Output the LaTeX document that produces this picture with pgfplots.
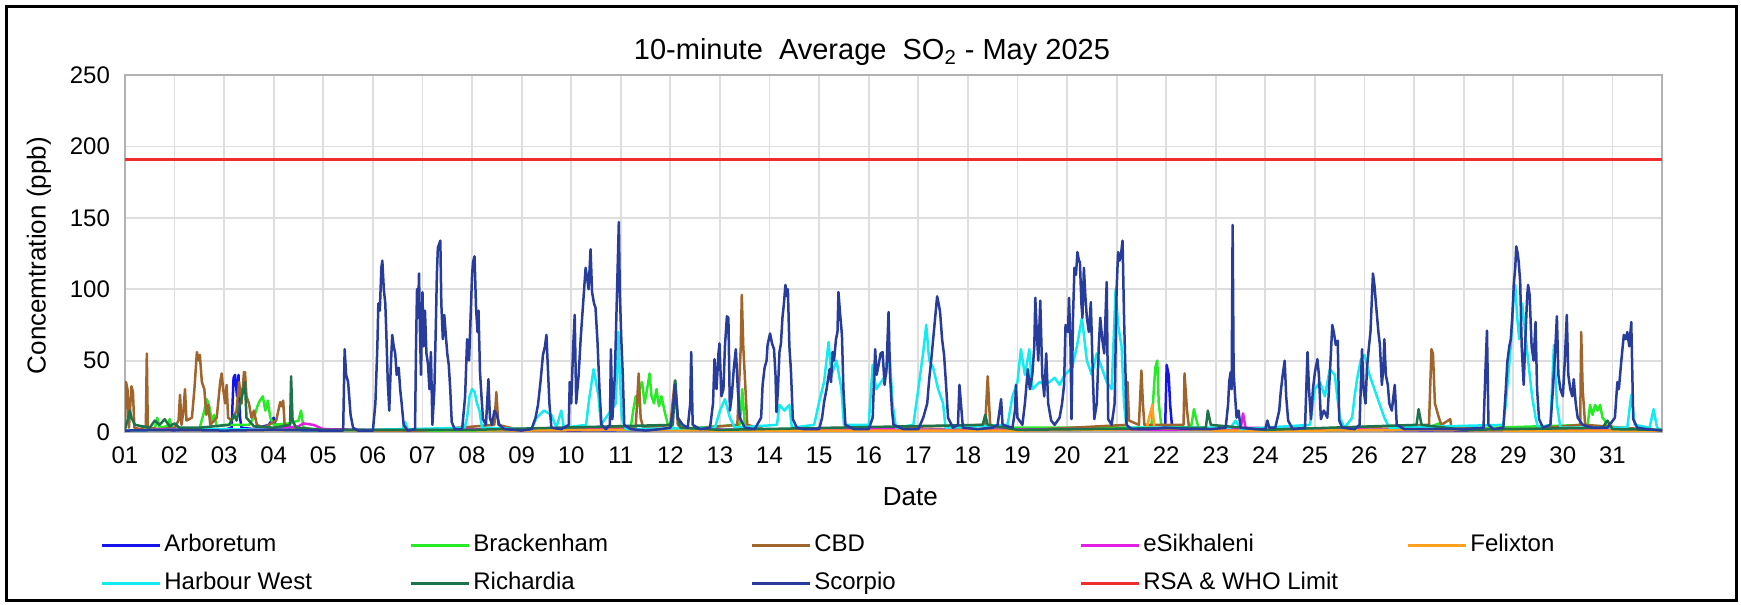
\documentclass[border=0pt]{standalone}
\usepackage{fontspec}
\setmainfont{Liberation Sans}
\usepackage{pgfplots}
\pgfplotsset{compat=1.18}
\definecolor{cArb}{RGB}{20,20,235}
\definecolor{cBra}{RGB}{40,235,40}
\definecolor{cCBD}{RGB}{160,100,45}
\definecolor{cESi}{RGB}{225,30,225}
\definecolor{cFel}{RGB}{255,160,30}
\definecolor{cHar}{RGB}{20,235,240}
\definecolor{cRic}{RGB}{30,115,75}
\definecolor{cSco}{RGB}{40,60,155}
\definecolor{cLim}{RGB}{240,45,45}
\definecolor{cGrid}{RGB}{222,222,222}
\begin{document}
\begin{tikzpicture}
\useasboundingbox (-62.5pt,-86.5pt) rectangle (808pt,216pt);
\draw[line width=1.5pt,black] (-59pt,-84pt) rectangle (805.5pt,212.5pt);
\begin{axis}[
  at={(0pt,0pt)}, anchor=south west,
  scale only axis, width=768.5pt, height=178.5pt,
  xmin=1, xmax=32, ymin=0, ymax=250,
  xtick={1,...,31},
  xticklabels={01,02,03,04,05,06,07,08,09,10,11,12,13,14,15,16,17,18,19,20,21,22,23,24,25,26,27,28,29,30,31},
  ytick={0,50,100,150,200,250},
  major tick length=0pt,
  grid=major,
  major grid style={cGrid, line width=0.9pt},
  axis line style={black!30, line width=0.8pt},
  /pgf/number format/assume math mode=true,
  tick label style={font=\fontsize{12}{14}\selectfont},
  yticklabel style={xshift=-4pt},
  xticklabel style={yshift=-4pt},
  title={10-minute\ \ Average\ \ SO\textsubscript{2} - May 2025},
  title style={at={(axis description cs:0.486,1.030)}, anchor=center, font=\fontsize{14.5}{16}\selectfont},
  xlabel={Date},
  xlabel style={at={(axis description cs:0.511,-0.182)}, anchor=center, font=\fontsize{13}{15}\selectfont},
  ylabel={Concemtration (ppb)},
  ylabel style={at={(axis description cs:-0.056,0.494)}, anchor=center, font=\fontsize{13}{15}\selectfont},
  legend columns=5,
  legend cell align=left,
  legend image code/.code={\draw[#1, line width=1.5pt] (0pt,0pt) -- (29pt,0pt);},
  legend style={at={(axis description cs:-0.0163,-0.2734)}, anchor=north west, draw=none, fill=none,
    inner sep=0pt, column sep=0pt, row sep=4pt,
    font=\fontsize{12}{14}\selectfont,
    nodes={inner sep=1.5pt, text height=9pt, text depth=3pt}},
  every axis plot/.append style={line width=1.25pt, line join=round},
]
% Arboretum
\addplot[cArb] coordinates {(1,1) (1.5,1.5) (2,1) (2.5,2) (3.0,1.5) (3.15,3) (3.19,38) (3.22,40) (3.26,25) (3.29,40) (3.32,10) (3.35,3) (3.6,2) (3.9,5) (4.0,10) (4.05,3) (4.5,1.5) (6,1) (8,1.5) (10,1) (12,1.5) (14,1) (16,1.5) (18,1) (20,1.5) (21.9,2) (21.98,5) (22.01,47) (22.05,40) (22.08,19) (22.12,3) (24,1) (26,1.5) (28,1) (30,1.5) (32,1)};
\addlegendentry{\makebox[121pt][l]{Arboretum}}
% Brackenham
\addplot[cBra] coordinates {(1,1) (1.6,2) (1.65,10) (1.7,3) (1.85,4) (1.9,9) (1.95,3) (2.5,2) (2.6,15) (2.65,23) (2.7,18) (2.75,8) (2.8,12) (2.85,4) (3.0,5) (3.5,5) (3.6,10) (3.67,18) (3.72,22) (3.78,25) (3.83,15) (3.88,22) (3.93,10) (4.0,5) (4.3,6) (4.5,8) (4.55,15) (4.6,3) (5,1) (8,1) (11.2,3) (11.25,15) (11.3,25) (11.34,18) (11.38,30) (11.43,35) (11.48,20) (11.53,30) (11.58,41) (11.62,25) (11.67,20) (11.72,30) (11.77,18) (11.82,25) (11.88,15) (11.95,5) (12.1,2) (13.4,5) (13.45,30) (13.5,5) (14,1) (18.3,2) (18.35,8) (18.4,3) (21.7,3) (21.78,45) (21.82,50) (21.85,20) (21.9,5) (22.5,3) (22.56,16) (22.6,10) (22.65,3) (24,1) (27.2,2) (27.5,6) (27.6,2) (30.5,5) (30.55,19) (30.6,12) (30.65,19) (30.7,15) (30.75,19) (30.8,10) (30.85,8) (30.9,3) (32,1)};
\addlegendentry{\makebox[137pt][l]{Brackenham}}
% CBD
\addplot[cCBD] coordinates {(1.0,2) (1.02,35) (1.05,30) (1.08,3) (1.13,32) (1.16,28) (1.19,3) (1.3,2) (1.42,4) (1.44,55) (1.46,3) (1.7,2) (2.0,3) (2.08,8) (2.11,26) (2.14,5) (2.18,15) (2.21,30) (2.24,8) (2.35,10) (2.4,30) (2.45,56) (2.49,50) (2.51,54) (2.55,35) (2.6,30) (2.64,12) (2.68,19) (2.72,5) (2.85,10) (2.92,35) (2.95,41) (2.98,30) (3.02,20) (3.05,33) (3.08,10) (3.15,8) (3.25,15) (3.3,35) (3.35,20) (3.4,42) (3.42,42) (3.45,25) (3.5,20) (3.55,10) (3.6,15) (3.66,5) (3.8,3) (4.05,8) (4.13,21) (4.16,18) (4.19,22) (4.22,5) (4.4,2) (5,1) (7,1) (8.45,5) (8.49,28) (8.53,5) (9,1) (11.3,3) (11.36,41) (11.4,10) (11.45,3) (12.0,5) (12.09,36) (12.15,5) (12.3,2) (13.35,5) (13.42,60) (13.44,96) (13.47,60) (13.5,40) (13.55,5) (14,1) (18.35,5) (18.4,39) (18.45,5) (19,1) (21.2,5) (21.22,35) (21.25,8) (21.45,5) (21.5,43) (21.53,20) (21.56,5) (22.35,5) (22.37,41) (22.42,15) (22.46,3) (24,1) (27.3,5) (27.35,58) (27.38,55) (27.42,20) (27.5,10) (27.55,5) (27.73,9) (27.75,3) (29,1) (30.35,5) (30.37,70) (30.4,30) (30.45,5) (32,1)};
\addlegendentry{\makebox[131pt][l]{CBD}}
% eSikhaleni
\addplot[cESi] coordinates {(1,1) (2,2) (3,1.5) (4,2) (4.5,4) (4.6,6) (4.8,5) (5,2) (6,1.5) (8,2) (10,1.5) (12,2) (14,1.5) (16,2) (18,1.5) (20,2) (22,1.5) (23.5,2) (23.55,13) (23.6,3) (25,2) (27,1.5) (29,2) (31,1.5) (32,1)};
\addlegendentry{\makebox[130pt][l]{eSikhaleni}}
% Felixton
\addplot[cFel] coordinates {(1,1) (3,1.5) (5,1) (7,1.5) (9,1) (11,1.5) (13,1) (15,1) (17,1) (19,1) (21.6,2) (21.72,19) (21.76,3) (23,1) (25,1) (27,1.5) (29,1) (31,1) (32,1)};
\addlegendentry{Felixton}
% Harbour West
\addplot[cHar] coordinates {(1,1) (3,2) (5,1) (6.6,2) (6.65,7) (6.7,2) (7.85,3) (7.9,10) (7.95,25) (8.0,30) (8.05,28) (8.1,20) (8.15,15) (8.2,3) (9.2,2) (9.3,10) (9.45,15) (9.6,12) (9.7,3) (9.8,15) (9.85,3) (10.3,5) (10.35,20) (10.45,44) (10.5,35) (10.55,25) (10.6,5) (10.9,20) (10.95,70) (10.98,40) (11.02,10) (11.1,2) (12.9,3) (13.0,15) (13.1,23) (13.2,10) (13.3,3) (14.15,5) (14.2,19) (14.3,15) (14.4,19) (14.45,3) (14.9,5) (15.0,21) (15.1,35) (15.19,63) (15.25,40) (15.35,50) (15.45,30) (15.5,5) (16.0,5) (16.08,47) (16.15,30) (16.25,35) (16.35,40) (16.42,56) (16.48,20) (16.55,3) (16.9,5) (17.0,30) (17.1,56) (17.16,75) (17.22,50) (17.3,45) (17.4,30) (17.5,20) (17.55,3) (18.8,5) (18.9,25) (19.0,35) (19.07,58) (19.15,40) (19.24,58) (19.3,30) (19.45,35) (19.55,33) (19.65,35) (19.75,38) (19.85,33) (19.95,40) (20.1,45) (20.2,60) (20.3,80) (20.4,50) (20.5,40) (20.6,55) (20.7,45) (20.8,35) (20.9,30) (20.98,100) (21.03,75) (21.1,60) (21.15,20) (21.2,3) (23.3,3) (23.4,8) (23.5,2) (24.9,5) (25.0,30) (25.1,35) (25.2,25) (25.3,44) (25.4,40) (25.5,10) (25.6,3) (25.75,10) (25.8,25) (25.85,37) (25.92,50) (26.0,54) (26.1,40) (26.2,30) (26.3,20) (26.4,10) (26.5,3) (28.8,5) (28.85,20) (28.95,60) (29.0,90) (29.04,103) (29.08,80) (29.12,65) (29.18,90) (29.24,70) (29.3,50) (29.38,25) (29.45,10) (29.5,3) (29.75,5) (29.82,61) (29.88,20) (29.95,3) (31.3,3) (31.38,26) (31.45,5) (31.75,3) (31.83,16) (31.9,3) (32,1)};
\addlegendentry{\makebox[121pt][l]{Harbour West}}
% Richardia
\addplot[cRic] coordinates {(1,2) (1.05,8) (1.1,15) (1.13,10) (1.2,5) (1.5,3) (1.6,8) (1.7,5) (1.8,9) (1.9,4) (2.0,6) (2.1,3) (2.5,3) (3.1,5) (3.2,12) (3.25,8) (3.42,35) (3.45,10) (3.6,4) (4.0,3) (4.33,5) (4.35,39) (4.38,8) (4.45,3) (5,1.5) (8,1.5) (12.05,5) (12.1,36) (12.15,10) (12.2,3) (13,1.5) (18.3,5) (18.35,12) (18.4,5) (19,1.5) (22.8,3) (22.84,15) (22.9,5) (24,1.5) (27.05,5) (27.09,16) (27.15,5) (28,1.5) (30.8,3) (30.9,8) (31,2) (32,1.5)};
\addlegendentry{\makebox[137pt][l]{Richardia}}
% Scorpio
\addplot[cSco] coordinates {(1,1) (2,1.5) (3,1) (4,1.5) (5,1) (5.40,1) (5.43,58) (5.46,40) (5.50,35) (5.55,12) (5.60,3) (5.70,1) (6.0,1) (6.05,20) (6.09,60) (6.11,90) (6.14,85) (6.17,115) (6.19,120) (6.22,100) (6.25,90) (6.27,70) (6.30,35) (6.33,15) (6.36,45) (6.39,68) (6.42,60) (6.45,55) (6.48,40) (6.52,45) (6.55,30) (6.58,20) (6.62,5) (6.7,1) (6.85,2) (6.87,60) (6.89,100) (6.91,80) (6.93,111) (6.95,70) (6.97,40) (7.0,98) (7.02,60) (7.05,85) (7.08,55) (7.11,48) (7.14,30) (7.17,56) (7.20,5) (7.24,30) (7.27,75) (7.29,110) (7.31,129) (7.34,132) (7.36,134) (7.38,90) (7.41,65) (7.44,82) (7.47,68) (7.50,55) (7.53,47) (7.56,30) (7.59,7) (7.65,2) (7.8,2) (7.86,25) (7.9,65) (7.94,50) (7.97,80) (8.0,110) (8.02,119) (8.05,123) (8.08,87) (8.11,70) (8.13,85) (8.16,42) (8.19,25) (8.22,9) (8.28,5) (8.33,37) (8.36,10) (8.40,5) (8.45,15) (8.50,12) (8.55,5) (8.65,2) (9.0,1) (9.2,2) (9.28,10) (9.33,19) (9.38,35) (9.43,54) (9.47,60) (9.5,68) (9.53,44) (9.56,20) (9.6,3) (9.8,2) (9.95,5) (9.97,35) (10.0,20) (10.04,60) (10.07,82) (10.1,20) (10.15,40) (10.19,65) (10.22,80) (10.26,100) (10.29,115) (10.32,108) (10.35,100) (10.39,128) (10.42,98) (10.46,90) (10.49,87) (10.53,63) (10.57,30) (10.61,5) (10.7,2) (10.78,5) (10.80,58) (10.83,9) (10.88,40) (10.91,80) (10.94,120) (10.96,147) (10.98,98) (11.01,65) (11.04,40) (11.07,5) (11.2,2) (11.5,1) (11.8,2) (12.0,3) (12.05,15) (12.09,33) (12.15,10) (12.25,5) (12.35,3) (12.40,20) (12.42,56) (12.45,5) (12.6,2) (12.8,3) (12.86,20) (12.89,51) (12.93,30) (12.97,55) (12.99,62) (13.03,25) (13.07,30) (13.1,60) (13.14,81) (13.17,80) (13.2,15) (13.24,26) (13.28,45) (13.32,58) (13.36,30) (13.40,10) (13.5,3) (13.7,2) (13.83,10) (13.86,33) (13.9,45) (13.94,50) (13.96,61) (14.01,69) (14.05,62) (14.09,58) (14.12,40) (14.14,14) (14.17,30) (14.2,56) (14.23,62) (14.26,80) (14.29,90) (14.32,103) (14.35,95) (14.37,100) (14.40,60) (14.43,44) (14.47,9) (14.55,3) (14.7,2) (15.0,2) (15.06,10) (15.1,21) (15.15,30) (15.21,44) (15.24,35) (15.27,56) (15.30,50) (15.34,65) (15.37,70) (15.39,98) (15.42,84) (15.46,68) (15.49,30) (15.53,5) (15.7,2) (16.0,2) (16.08,10) (16.13,58) (16.16,40) (16.2,47) (16.24,55) (16.28,56) (16.32,33) (16.36,45) (16.4,84) (16.43,40) (16.47,15) (16.5,5) (16.7,2) (17.0,2) (17.1,10) (17.18,20) (17.22,37) (17.26,50) (17.3,65) (17.34,80) (17.38,95) (17.41,90) (17.44,84) (17.48,65) (17.52,54) (17.56,33) (17.6,10) (17.7,3) (17.8,5) (17.83,33) (17.86,20) (17.9,3) (18.2,2) (18.5,3) (18.6,5) (18.67,23) (18.7,5) (18.9,3) (18.95,15) (18.97,33) (19.0,10) (19.1,5) (19.15,20) (19.21,44) (19.25,30) (19.3,40) (19.34,60) (19.36,94) (19.39,70) (19.42,50) (19.46,92) (19.5,40) (19.54,25) (19.58,55) (19.62,20) (19.68,8) (19.75,5) (19.85,10) (19.9,20) (19.94,33) (19.97,75) (20.02,70) (20.04,94) (20.07,60) (20.09,9) (20.12,80) (20.15,115) (20.18,110) (20.21,126) (20.24,120) (20.26,119) (20.29,90) (20.31,80) (20.34,115) (20.37,95) (20.4,80) (20.44,70) (20.48,91) (20.52,40) (20.55,9) (20.6,20) (20.64,60) (20.67,80) (20.71,65) (20.75,55) (20.8,105) (20.83,9) (20.9,5) (20.96,20) (21.0,100) (21.03,126) (21.06,120) (21.09,125) (21.12,134) (21.15,80) (21.18,40) (21.2,5) (21.3,2) (21.6,2) (22.0,3) (22.5,2) (22.9,2) (23.2,3) (23.25,20) (23.27,35) (23.3,42) (23.32,30) (23.34,145) (23.36,42) (23.39,25) (23.42,10) (23.46,15) (23.5,3) (23.8,2) (24.0,2) (24.04,8) (24.08,3) (24.2,3) (24.28,15) (24.31,28) (24.35,40) (24.39,50) (24.42,25) (24.46,8) (24.55,2) (24.8,3) (24.85,56) (24.88,30) (24.92,9) (24.96,30) (25.0,42) (25.05,51) (25.08,40) (25.12,9) (25.18,15) (25.25,10) (25.3,40) (25.35,75) (25.38,70) (25.42,61) (25.46,64) (25.49,8) (25.55,3) (25.8,2) (25.9,5) (25.95,58) (25.98,30) (26.02,20) (26.05,45) (26.09,60) (26.12,70) (26.15,95) (26.17,111) (26.2,103) (26.23,90) (26.25,82) (26.28,70) (26.31,61) (26.35,33) (26.38,45) (26.4,65) (26.43,40) (26.47,33) (26.5,20) (26.55,15) (26.61,33) (26.65,5) (26.8,2) (27.5,2) (28.0,2) (28.4,3) (28.44,44) (28.47,71) (28.5,5) (28.6,2) (28.8,3) (28.85,30) (28.88,49) (28.92,60) (28.95,65) (28.98,80) (29.01,103) (29.04,115) (29.06,130) (29.09,125) (29.11,119) (29.14,105) (29.17,60) (29.21,33) (29.25,70) (29.28,95) (29.3,103) (29.33,96) (29.37,60) (29.41,50) (29.45,77) (29.48,30) (29.52,9) (29.6,3) (29.75,5) (29.8,30) (29.85,60) (29.88,81) (29.91,40) (29.95,30) (30.0,25) (30.04,50) (30.08,82) (30.11,40) (30.15,30) (30.19,25) (30.22,37) (30.26,20) (30.3,10) (30.4,5) (30.6,3) (30.9,3) (31.05,10) (31.1,35) (31.13,30) (31.18,50) (31.23,68) (31.27,65) (31.3,70) (31.34,60) (31.38,77) (31.42,9) (31.5,3) (31.7,2) (32,1)};
\addlegendentry{\makebox[131pt][l]{Scorpio}}
% Limit
\addplot[cLim, line width=1.4pt] coordinates {(1,191) (32,191)};
\addlegendentry{RSA \& WHO Limit}
\end{axis}
\end{tikzpicture}
\end{document}
